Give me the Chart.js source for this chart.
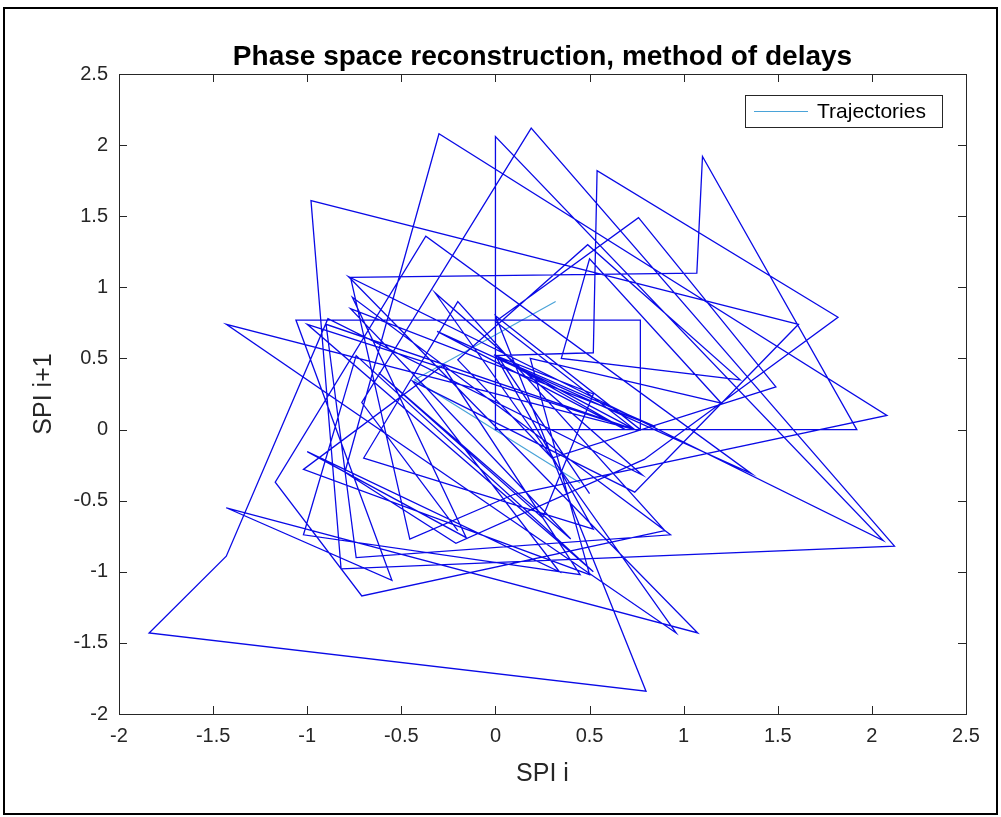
<!DOCTYPE html>
<html>
<head>
<meta charset="utf-8">
<script src="https://cdn.jsdelivr.net/npm/chart.js@4.4.1/dist/chart.umd.min.js"></script>
<style>
  html, body { margin: 0; padding: 0; background: #fff; }
  #wrap { width: 1001px; height: 817px; }
</style>
</head>
<body>
<div id="wrap"><canvas id="phase-chart" width="1001" height="817"></canvas></div>
<script>
// SPI series, each plotted point is (spi[i], spi[i+1])
const spi = [
  -0.20, -0.71, 0.19, 2.12, -0.82, -0.98, 1.61, 0.74, -0.44, 0.34, -1.0, -0.155,
  -0.76, 0.93, -0.74, -0.90, 0.74, 0.0, 0.52, -0.70, -0.20, 0.90, -0.71, -1.17,
  -0.37, 1.36, -0.31, 0.69, 0.0, 0.52, 0.54, 1.82, 0.79, -0.21, -0.80, -0.30,
  2.08, 0.10, -0.455, -0.77, 1.07, 1.10, 1.92, 0.0, 0.0, 2.06, -0.78, 1.075,
  -1.43, -0.55, -1.06, 0.77, 0.77, 0.0, 0.80, -1.84, -1.43, -0.89, 0.78, -0.32,
  0.96, -1.43, 0.74, 0.0, 0.76, 1.49, 0.30, -0.20, 0.49, 1.30, 0.35, 0.50,
  1.20, 0.185, 0.50, -1.02, -0.28, 0.45, -1.02, -0.74, 0.52, -1.0, 0.74, 0.0,
  0.52, 0.25, -0.62, 0.40, -0.77, 0.85, 0.02, 0.50, -0.45
];

// the lighter first trajectory
const firstX = [0.32, -0.43, 0.45];
const firstY = [0.90, 0.35, -0.375];

const tickValues = [-2, -1.5, -1, -0.5, 0, 0.5, 1, 1.5, 2, 2.5];

const axisColor = '#262626';
const fontFamily = '"Liberation Sans", Arial, Helvetica, sans-serif';

const trajPoints = spi.slice(0, -1).map((v, i) => ({ x: v, y: spi[i + 1] }));
const firstPoints = firstX.map((v, i) => ({ x: v, y: firstY[i] }));

const matlabFrame = {
  id: 'matlabFrame',
  afterDraw(chart) {
    const { ctx, chartArea: a, scales: { x, y } } = chart;
    ctx.save();

    // figure border
    ctx.strokeStyle = '#000';
    ctx.lineWidth = 2;
    ctx.strokeRect(4, 8, 993, 806);

    // axes box
    ctx.strokeStyle = axisColor;
    ctx.lineWidth = 1;
    ctx.strokeRect(a.left + 0.5, a.top + 0.5, a.right - a.left, a.bottom - a.top);

    // inward ticks on all four sides
    ctx.beginPath();
    tickValues.forEach(v => {
      const px = Math.round(x.getPixelForValue(v)) + 0.5;
      ctx.moveTo(px, a.bottom); ctx.lineTo(px, a.bottom - 8);
      ctx.moveTo(px, a.top); ctx.lineTo(px, a.top + 8);
      const py = Math.round(y.getPixelForValue(v)) + 0.5;
      ctx.moveTo(a.left, py); ctx.lineTo(a.left + 8, py);
      ctx.moveTo(a.right, py); ctx.lineTo(a.right - 8, py);
    });
    ctx.stroke();

    // title
    ctx.fillStyle = '#000';
    ctx.font = 'bold 28px ' + fontFamily;
    ctx.textAlign = 'center';
    ctx.textBaseline = 'alphabetic';
    ctx.fillText('Phase space reconstruction, method of delays', (a.left + a.right) / 2, 65);

    // axis labels
    ctx.fillStyle = axisColor;
    ctx.font = '25px ' + fontFamily;
    ctx.fillText('SPI i', (a.left + a.right) / 2, 781);
    ctx.save();
    ctx.translate(51, (a.top + a.bottom) / 2);
    ctx.rotate(-Math.PI / 2);
    ctx.fillText('SPI i+1', 0, 0);
    ctx.restore();

    // legend
    ctx.fillStyle = '#fff';
    ctx.fillRect(745, 95, 197, 32);
    ctx.strokeStyle = axisColor;
    ctx.strokeRect(745.5, 95.5, 197, 32);
    ctx.strokeStyle = chart.data.datasets[0].borderColor;
    ctx.lineWidth = 1;
    ctx.beginPath();
    ctx.moveTo(754, 111.5); ctx.lineTo(808, 111.5);
    ctx.stroke();
    ctx.fillStyle = '#000';
    ctx.font = '21px ' + fontFamily;
    ctx.textAlign = 'left';
    ctx.textBaseline = 'middle';
    ctx.fillText(chart.data.datasets[0].label, 817, 112);

    ctx.restore();
  }
};

new Chart(document.getElementById('phase-chart').getContext('2d'), {
  type: 'scatter',
  data: {
    datasets: [
      {
        label: 'Trajectories',
        data: firstPoints,
        showLine: true,
        borderColor: '#4aa3d8',
        borderWidth: 1.2,
        pointRadius: 0,
        tension: 0,
        order: 1
      },
      {
        label: 'spi',
        data: trajPoints,
        showLine: true,
        borderColor: '#0a0ae6',
        borderWidth: 1.3,
        pointRadius: 0,
        tension: 0,
        order: 0
      }
    ]
  },
  options: {
    responsive: false,
    animation: false,
    layout: { padding: { left: 0, top: 74, right: 35, bottom: 58 } },
    plugins: {
      legend: { display: false },
      title: { display: false },
      tooltip: { enabled: false }
    },
    scales: {
      x: {
        type: 'linear',
        min: -2,
        max: 2.5,
        afterBuildTicks: s => { s.ticks = tickValues.map(v => ({ value: v })); },
        afterFit: s => { s.height = 45; },
        grid: { display: false, drawTicks: false },
        border: { display: false },
        ticks: { color: axisColor, padding: 10, maxRotation: 0, autoSkip: false,
                 callback: v => String(v),
                 font: { family: fontFamily, size: 20 } }
      },
      y: {
        type: 'linear',
        min: -2,
        max: 2.5,
        afterBuildTicks: s => { s.ticks = tickValues.map(v => ({ value: v })); },
        afterFit: s => { s.width = 119; },
        grid: { display: false, drawTicks: false },
        border: { display: false },
        ticks: { color: axisColor, padding: 11, autoSkip: false,
                 callback: v => String(v),
                 font: { family: fontFamily, size: 20 } }
      }
    }
  },
  plugins: [matlabFrame]
});
</script>
</body>
</html>
